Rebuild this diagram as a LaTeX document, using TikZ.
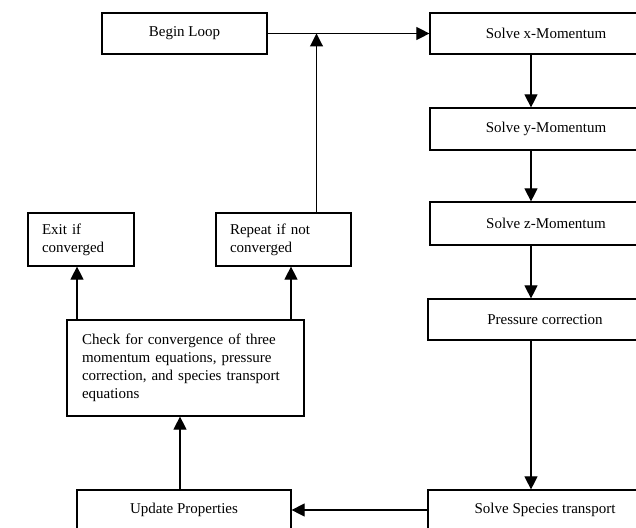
\documentclass[tikz,border=0pt]{standalone}
\usepackage{fontspec}
\setmainfont{Liberation Serif}
\usetikzlibrary{arrows.meta}
\begin{document}
\begin{tikzpicture}[x=1pt,y=-1pt,
  box/.style={draw=black,line width=1.2pt,rectangle,inner sep=0pt,font=\fontsize{15}{18}\selectfont},
  lbox/.style={box,align=left,text width=#1},
  arr/.style={line width=1.1pt,-{Triangle[length=13pt,width=13pt]}},
  ln/.style={line width=1.1pt}]
\useasboundingbox (0,0) rectangle (636,527);
\fill[white] (0,0) rectangle (636,527);
\begin{scope}
\clip (0,0) rectangle (636,527);
\node[box,minimum width=165pt,minimum height=41pt] (begin) at (184.5,33.5) {Begin Loop};
\node[box,minimum width=232pt,minimum height=41pt] (solx) at (546,33.5) {Solve x-Momentum};
\node[box,minimum width=232pt,minimum height=42pt] (soly) at (546,129) {Solve y-Momentum};
\node[box,minimum width=232pt,minimum height=43pt] (solz) at (546,223.5) {Solve z-Momentum};
\node[box,minimum width=234pt,minimum height=41pt] (press) at (545,319.5) {Pressure correction};
\node[box,minimum width=234pt,minimum height=40pt] (species) at (545,510) {Solve Species transport};
\node[box,minimum width=214pt,minimum height=40pt] (update) at (184,510) {Update Properties};
\node[lbox=207pt,minimum width=237pt,minimum height=96pt] (check) at (185.5,368)
  {Check for convergence of three\\momentum equations, pressure\\correction, and species transport\\equations};
\node[lbox=78pt,minimum width=106pt,minimum height=53pt] (exit) at (81,239.5) {Exit if\\converged};
\node[lbox=107pt,minimum width=135pt,minimum height=53pt] (repeat) at (283.5,239.5) {Repeat if not\\converged};

\coordinate (colx) at (531,0);
\coordinate (upx) at (180,0);
\coordinate (exx) at (77,0);
\coordinate (rpx) at (291,0);
\coordinate (junc) at (316.5,33.5);

\draw[arr] (begin) -- (solx);
\draw[arr] (solx.south -| colx) -- (soly.north -| colx);
\draw[arr] (soly.south -| colx) -- (solz.north -| colx);
\draw[arr] (solz.south -| colx) -- (press.north -| colx);
\draw[arr] (press.south -| colx) -- (species.north -| colx);
\draw[arr] (species) -- (update);
\draw[arr] (update.north -| upx) -- (check.south -| upx);
\draw[arr] (check.north -| exx) -- (exit.south -| exx);
\draw[arr] (check.north -| rpx) -- (repeat.south -| rpx);
\draw[arr] (repeat.north -| junc) -- (junc);
\end{scope}
\end{tikzpicture}
\end{document}
